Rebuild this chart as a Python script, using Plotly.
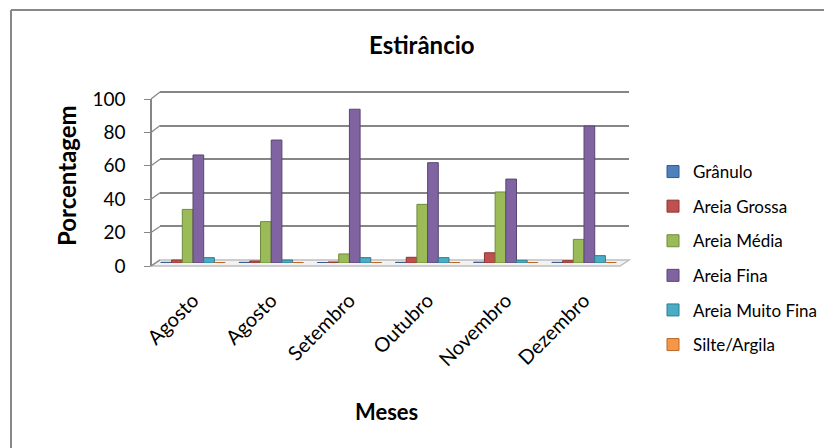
import plotly.graph_objects as go

# ---- data ----
meses = ["Agosto", "Agosto", "Setembro", "Outubro", "Novembro", "Dezembro"]
granulo = [0.4, 0.4, 0.3, 0.4, 0.5, 0.4]
areia_grossa = [1.8, 1.2, 0.6, 3.4, 6.1, 1.4]
areia_media = [32, 24.7, 5.4, 35, 42.4, 14.1]
areia_fina = [64.5, 73.4, 91.8, 59.9, 50.1, 81.8]
areia_muito_fina = [3.2, 1.8, 3.2, 3.2, 1.6, 4.4]
silte_argila = [0.3, 0.3, 0.3, 0.3, 0.3, 0.3]
y_ticks = [0, 20, 40, 60, 80, 100]

series = [
    ("Grânulo", granulo, "#4F81BD", "#37598a"),
    ("Areia Grossa", areia_grossa, "#C0504D", "#8c3634"),
    ("Areia Média", areia_media, "#9BBB59", "#6f8a3c"),
    ("Areia Fina", areia_fina, "#8064A2", "#594673"),
    ("Areia Muito Fina", areia_muito_fina, "#4BACC6", "#2f7d92"),
    ("Silte/Argila", silte_argila, "#F79646", "#b96a2b"),
]

W, H = 824, 448
L, R, T, B = 151, 195, 88, 182
PW, PH = W - L - R, H - T - B
FONT = "Lato, 'Open Sans', sans-serif"
GRID = "#868686"

def px_x(px):
    return (px - L) / PW

def px_y(py):
    return (H - B - py) / PH

x_idx = list(range(len(meses)))

fig = go.Figure()
# invisible traces so that the front and back axes are drawn
fig.add_trace(go.Scatter(x=[None], y=[None], yaxis="y", showlegend=False, hoverinfo="skip"))
fig.add_trace(go.Scatter(x=[None], y=[None], yaxis="y2", showlegend=False, hoverinfo="skip"))
for name, vals, col, dark in series:
    fig.add_trace(go.Bar(
        x=x_idx, y=vals, name=name, yaxis="y3",
        marker=dict(color=col, line=dict(width=1, color=dark)),
        legendgroup=name,
    ))

# front plane: 0 -> 266px, 100 -> 99px ; back plane: 0 -> 260, 1.68 px/unit ; middle: 0 -> 263, 100 -> 95.5
front_dom = [px_y(266), px_y(99)]
back_rng = [0, 102]
back_dom = [px_y(260), px_y(260 - 102 * 1.68)]
mid_dom = [px_y(263), px_y(95.5)]

shapes = []
# floor
shapes.append(dict(type="path", xref="paper", yref="paper",
                   path=f"M {px_x(151)},{px_y(266)} L {px_x(620)},{px_y(266)} L {px_x(629)},{px_y(260)} L {px_x(160)},{px_y(260)} Z",
                   fillcolor="#f2f2f2", line=dict(color="#bfbfbf", width=1.5), layer="below"))
# left wall diagonals
for v in y_ticks:
    yf = front_dom[0] + v / 100 * (front_dom[1] - front_dom[0])
    yb = back_dom[0] + v / back_rng[1] * (back_dom[1] - back_dom[0])
    shapes.append(dict(type="line", xref="paper", yref="paper",
                       x0=0, y0=yf, x1=px_x(160), y1=yb,
                       line=dict(color=GRID, width=1.2)))
# outer border (top and left)
shapes.append(dict(type="line", xref="paper", yref="paper",
                   x0=px_x(11), y0=px_y(10), x1=px_x(826), y1=px_y(10),
                   line=dict(color="#888888", width=2)))
shapes.append(dict(type="line", xref="paper", yref="paper",
                   x0=px_x(11), y0=px_y(10), x1=px_x(11), y1=px_y(450),
                   line=dict(color="#888888", width=2)))

fig.update_layout(
    width=W, height=H,
    margin=dict(l=L, r=R, t=T, b=B, pad=0, autoexpand=False),
    paper_bgcolor="white", plot_bgcolor="rgba(0,0,0,0)",
    barmode="group", bargap=0.18, bargroupgap=0,
    font=dict(family=FONT, color="black"),
    showlegend=True,
    xaxis=dict(
        domain=[px_x(160), 1.0],
        range=[-0.422, 5.575],
        tickmode="array", tickvals=x_idx, ticktext=meses,
        tickangle=-45, tickfont=dict(size=20, family=FONT),
        showgrid=False, zeroline=False, showline=False, ticks="",
        anchor="y", ticklabelstandoff=18, automargin=False,
    ),
    yaxis=dict(
        domain=front_dom,
        range=[0, 100], tickvals=y_ticks,
        tickfont=dict(size=19, family=FONT),
        showgrid=False, zeroline=False,
        showline=True, linecolor=GRID, linewidth=1.5,
        ticks="outside", ticklen=6, tickcolor=GRID, tickwidth=1.2,
        anchor="free", position=0, ticklabelstandoff=15, automargin=False,
    ),
    yaxis2=dict(
        domain=back_dom,
        range=back_rng, tickvals=y_ticks,
        showticklabels=False,
        showgrid=True, gridcolor=GRID, gridwidth=1.5,
        zeroline=False, showline=False, anchor="x",
    ),
    yaxis3=dict(
        domain=mid_dom, range=[0, 100],
        showticklabels=False, showgrid=False, zeroline=False,
        showline=False, anchor="x",
    ),
    legend=dict(
        x=px_x(653), y=px_y(154), xanchor="left", yanchor="top",
        font=dict(size=17, family=FONT), tracegroupgap=9.5,
        bgcolor="rgba(0,0,0,0)", itemwidth=30, maxheight=300,
    ),
    shapes=shapes,
    annotations=[
        dict(text="<b>Estirâncio</b>", xref="paper", yref="paper",
             x=px_x(422), y=px_y(44), showarrow=False,
             font=dict(size=24, family=FONT), xanchor="center", yanchor="middle"),
        dict(text="<b>Porcentagem</b>", xref="paper", yref="paper",
             x=px_x(66), y=px_y(176), showarrow=False, textangle=-90,
             font=dict(size=24, family=FONT), xanchor="center", yanchor="middle"),
        dict(text="<b>Meses</b>", xref="paper", yref="paper",
             x=px_x(386), y=px_y(411), showarrow=False,
             font=dict(size=22, family=FONT), xanchor="center", yanchor="middle"),
    ],
)

fig.write_html("out.html")
